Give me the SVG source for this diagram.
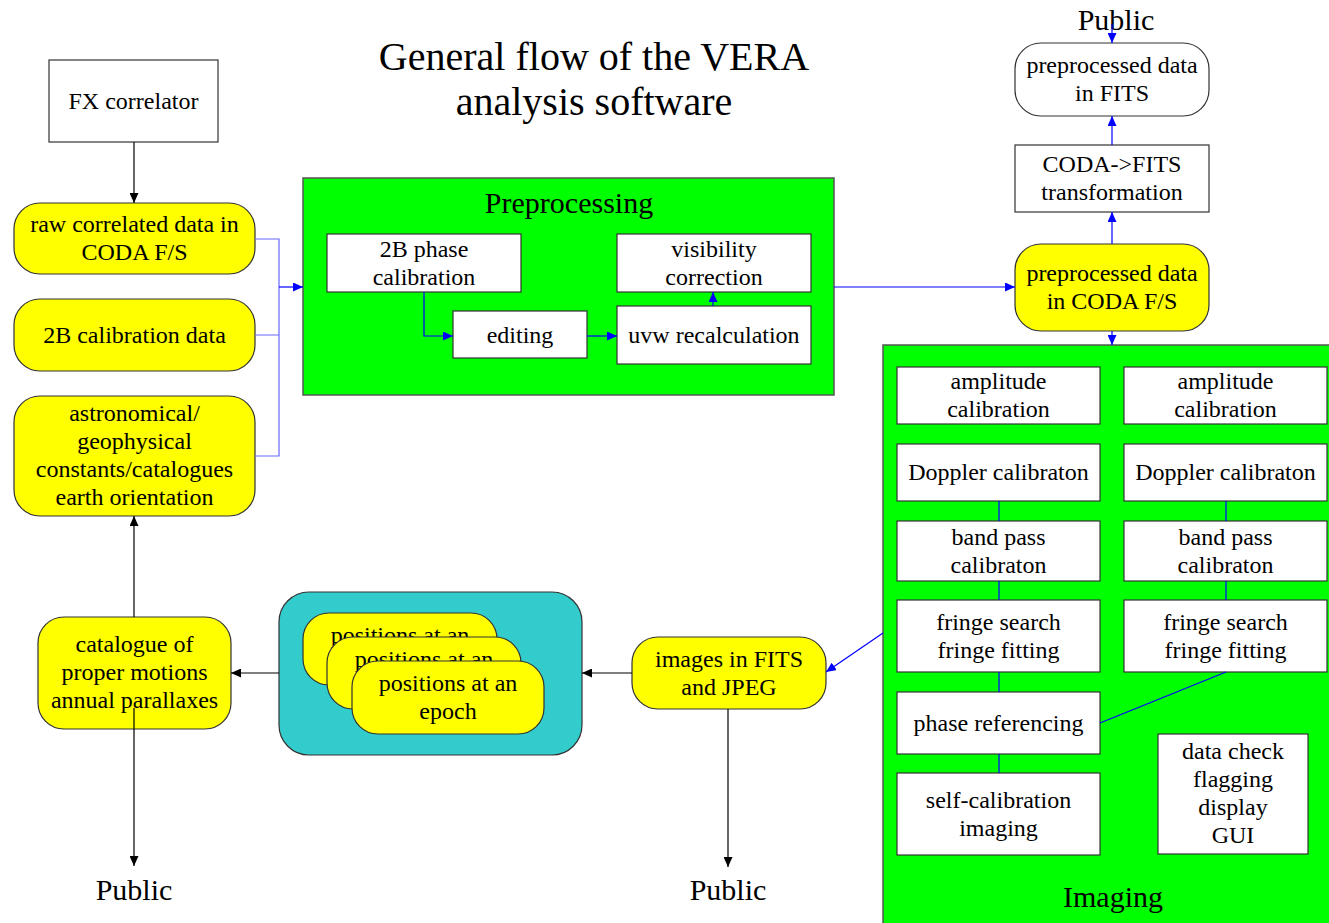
<svg xmlns="http://www.w3.org/2000/svg" width="1329" height="923" viewBox="0 0 1329 923">
<style>
text{font-family:"Liberation Serif","Times New Roman",serif;font-size:24px;fill:#000;text-anchor:middle}
.big{font-size:30px}
.title{font-size:40px}
.box{fill:#fff;stroke:#333;stroke-width:1.2}
.yel{fill:#ffff00;stroke:#333;stroke-width:1.2}
.grn{fill:#00ff00;stroke:#555;stroke-width:1.5}
.cyan{fill:#33cccc;stroke:#333;stroke-width:1.2}
.bl{fill:none;stroke:#0000ff;stroke-width:1.2}
.blf{fill:none;stroke:#6666ff;stroke-width:1.2}
.bk{fill:none;stroke:#000;stroke-width:1.2}
</style>
<defs>
<marker id="ab" markerUnits="userSpaceOnUse" markerWidth="10" markerHeight="9" refX="10" refY="4.5" orient="auto"><path d="M0,0 L10,4.5 L0,9 z" fill="#0000ff"/></marker>
<marker id="ak" markerUnits="userSpaceOnUse" markerWidth="10" markerHeight="9" refX="10" refY="4.5" orient="auto"><path d="M0,0 L10,4.5 L0,9 z" fill="#000"/></marker>
</defs>
<rect width="1329" height="923" fill="#fff"/>
<g id="title"><text class="title" x="594" y="70">General flow of the VERA</text><text class="title" x="594" y="115">analysis software</text></g>

<g id="fx"><rect class="box" x="49" y="60" width="169" height="82"/><text x="133.5" y="109">FX correlator</text></g>
<g id="raw"><rect class="yel" x="14" y="203" width="241" height="71" rx="26"/><text x="134.5" y="232">raw correlated data in</text><text x="134.5" y="260">CODA F/S</text></g>
<g id="cal2b"><rect class="yel" x="14" y="299" width="241" height="72" rx="26"/><text x="134.5" y="343">2B calibration data</text></g>
<g id="astro"><rect class="yel" x="14" y="396" width="241" height="120" rx="26"/><text x="134.5" y="421">astronomical/</text><text x="134.5" y="449">geophysical</text><text x="134.5" y="477">constants/catalogues</text><text x="134.5" y="505">earth orientation</text></g>

<g id="preprocessing"><rect class="grn" x="303" y="178" width="531" height="217"/><text class="big" x="569" y="213">Preprocessing</text></g>
<g id="phasecal"><rect class="box" x="327" y="234" width="194" height="58"/><text x="424" y="257">2B phase</text><text x="424" y="285">calibration</text></g>
<g id="visib"><rect class="box" x="617" y="234" width="194" height="58"/><text x="714" y="257">visibility</text><text x="714" y="285">correction</text></g>
<g id="editing"><rect class="box" x="453" y="311" width="134" height="47"/><text x="520" y="343">editing</text></g>
<g id="uvw"><rect class="box" x="617" y="306" width="194" height="58"/><text x="714" y="343">uvw recalculation</text></g>

<g id="prepfits"><rect class="box" x="1015" y="43" width="194" height="73" rx="26"/><text x="1112" y="73">preprocessed data</text><text x="1112" y="101">in FITS</text></g>
<g id="coda2fits"><rect class="box" x="1015" y="145" width="194" height="67"/><text x="1112" y="172">CODA-&gt;FITS</text><text x="1112" y="200">transformation</text></g>
<g id="prepcoda"><rect class="yel" x="1015" y="244" width="194" height="87" rx="26"/><text x="1112" y="281">preprocessed data</text><text x="1112" y="309">in CODA F/S</text></g>

<g id="imaging"><rect class="grn" x="883" y="345" width="460" height="600"/><text class="big" x="1113" y="907">Imaging</text></g>
<g id="amp1"><rect class="box" x="897" y="367" width="203" height="57"/><text x="998.5" y="389">amplitude</text><text x="998.5" y="417">calibration</text></g>
<g id="amp2"><rect class="box" x="1124" y="367" width="203" height="57"/><text x="1225.5" y="389">amplitude</text><text x="1225.5" y="417">calibration</text></g>
<g id="dop1"><rect class="box" x="897" y="444" width="203" height="57"/><text x="998.5" y="480">Doppler calibraton</text></g>
<g id="dop2"><rect class="box" x="1124" y="444" width="203" height="57"/><text x="1225.5" y="480">Doppler calibraton</text></g>
<g id="band1"><rect class="box" x="897" y="521" width="203" height="60"/><text x="998.5" y="545">band pass</text><text x="998.5" y="573">calibraton</text></g>
<g id="band2"><rect class="box" x="1124" y="521" width="203" height="60"/><text x="1225.5" y="545">band pass</text><text x="1225.5" y="573">calibraton</text></g>
<g id="fringe1"><rect class="box" x="897" y="600" width="203" height="72"/><text x="998.5" y="630">fringe search</text><text x="998.5" y="658">fringe fitting</text></g>
<g id="fringe2"><rect class="box" x="1124" y="600" width="203" height="72"/><text x="1225.5" y="630">fringe search</text><text x="1225.5" y="658">fringe fitting</text></g>
<g id="phaseref"><rect class="box" x="897" y="692" width="203" height="62"/><text x="998.5" y="731">phase referencing</text></g>
<g id="selfcal"><rect class="box" x="897" y="773" width="203" height="82"/><text x="998.5" y="808">self-calibration</text><text x="998.5" y="836">imaging</text></g>
<g id="datacheck"><rect class="box" x="1158" y="734" width="150" height="120"/><text x="1233" y="759">data check</text><text x="1233" y="787">flagging</text><text x="1233" y="815">display</text><text x="1233" y="843">GUI</text></g>

<g id="images"><rect class="yel" x="632" y="637" width="194" height="72" rx="26"/><text x="729" y="667">images in FITS</text><text x="729" y="695">and JPEG</text></g>
<g id="positions"><rect class="cyan" x="279" y="592" width="303" height="163" rx="30"/>
<g id="pos1"><rect class="yel" x="303" y="613" width="194" height="72" rx="26"/><text x="400" y="643">positions at an</text></g>
<g id="pos2"><rect class="yel" x="327" y="637" width="194" height="72" rx="26"/><text x="424" y="667">positions at an</text></g>
<g id="pos3"><rect class="yel" x="352" y="661" width="192" height="73" rx="26"/><text x="448" y="691">positions at an</text><text x="448" y="719">epoch</text></g></g>
<g id="catalogue"><rect class="yel" x="38" y="617" width="193" height="112" rx="26"/><text x="134.5" y="652">catalogue of</text><text x="134.5" y="680">proper motions</text><text x="134.5" y="708">annual parallaxes</text></g>

<g id="public1"><text class="big" x="1116" y="30">Public</text></g>
<g id="public2"><text class="big" x="728" y="900">Public</text></g>
<g id="public3"><text class="big" x="134" y="900">Public</text></g>

<g id="connectors">
<path class="bk" d="M134,142 V203" marker-end="url(#ak)"/>
<path class="blf" d="M255,239 H279 V456 H255 M255,335 H279"/>
<path class="bl" d="M279,287 H303" stroke-width="2.2" marker-end="url(#ab)"/>
<path class="bl" d="M424,292 V336 H453" marker-end="url(#ab)"/>
<path class="bl" d="M587,336 H617" marker-end="url(#ab)"/>
<path class="bl" d="M713,306 V292" marker-end="url(#ab)"/>
<path class="bl" d="M834,287 H1015" marker-end="url(#ab)"/>
<path class="bl" d="M1112,244 V212" marker-end="url(#ab)"/>
<path class="bl" d="M1112,145 V116" marker-end="url(#ab)"/>
<path class="bl" d="M1112,24 V43" marker-end="url(#ab)"/>
<path class="bl" d="M1112,331 V345" marker-end="url(#ab)"/>
<path class="bl" d="M999,501 V521 M999,581 V600 M999,672 V692 M999,754 V773 M1226,501 V521 M1226,581 V600 M1226,672 L1100,723"/>
<path class="bl" d="M883,633 L826,672" marker-end="url(#ab)"/>
<path class="bk" d="M728,709 V867" marker-end="url(#ak)"/>
<path class="bk" d="M632,673 H582" marker-end="url(#ak)"/>
<path class="bk" d="M279,673 H231" marker-end="url(#ak)"/>
<path class="bk" d="M134,617 V516" marker-end="url(#ak)"/>
<path class="bk" d="M134,708 V866" marker-end="url(#ak)"/>
</g>
</svg>
